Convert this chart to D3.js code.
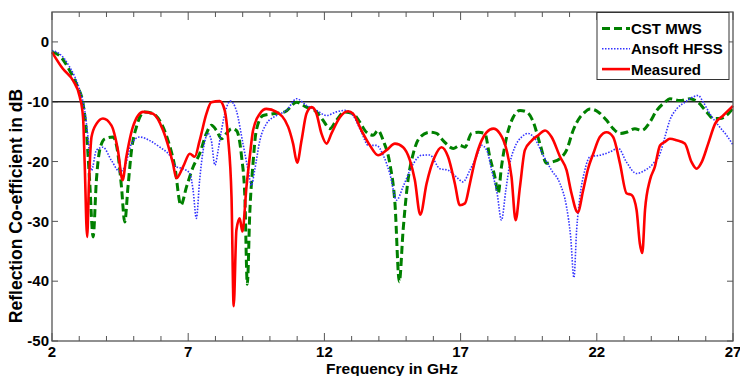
<!DOCTYPE html>
<html>
<head>
<style>
  body { margin: 0; background: #fff; }
  text { font-family: "Liberation Sans", Arial, sans-serif; font-weight: bold; }
</style>
</head>
<body>
<svg id="svg" width="740" height="376"></svg>
<script src="https://cdn.jsdelivr.net/npm/d3@7"></script>
<script>
// frequency (GHz) / reflection coefficient (dB)
const cstF = [2,2.28,2.65,2.95,3.14,3.26,3.38,3.51,3.63,3.75,3.94,4.24,4.42,4.55,4.67,4.79,4.92,5.1,5.4,5.71,6.02,6.26,6.51,6.73,6.94,7.18,7.42,7.67,7.85,8.04,8.22,8.41,8.59,8.77,8.96,9.08,9.17,9.26,9.38,9.5,9.75,10.12,10.55,10.98,11.34,11.71,11.95,12.2,12.44,12.75,13.05,13.3,13.54,13.79,13.97,14.16,14.4,14.59,14.75,14.89,15.07,15.26,15.5,15.87,16.12,16.36,16.73,16.97,17.16,17.4,17.65,17.89,18.07,18.26,18.38,18.5,18.69,18.93,19.18,19.42,19.67,19.91,20.16,20.34,20.65,20.89,21.13,21.38,21.5,21.75,22.05,22.36,22.6,22.85,23.09,23.4,23.65,23.95,24.2,24.5,24.68,25.05,25.42,25.72,26.03,26.27,26.52,26.76,27];
const cstDb = [-1.7,-2.3,-4.8,-7.6,-10.3,-14.8,-23.1,-32.6,-23.1,-18.1,-16.2,-15.9,-18.7,-24.2,-30.1,-24.2,-18.1,-14.2,-11.7,-12,-13.7,-16.5,-20.9,-27.3,-24.2,-20.9,-18.7,-15.3,-13.95,-14.8,-16.2,-15.3,-14.5,-14.8,-19.2,-25.9,-40.5,-28.7,-20.3,-14.8,-12.3,-12,-11.7,-10.1,-10.9,-11.7,-13.1,-14.5,-13.1,-11.7,-12,-13.4,-15.1,-15.6,-14.8,-16.5,-20.3,-27,-40.1,-31.45,-23.1,-18.7,-16,-15.1,-15.3,-16.5,-17.8,-17.3,-17.6,-15.3,-15.1,-15.3,-19.2,-22.6,-25.3,-20.9,-15.9,-12.6,-11.45,-11.7,-13.4,-17,-20.3,-20.1,-19.5,-18.1,-14.8,-12.6,-12,-11.2,-11.7,-13.1,-14.5,-15.3,-15.1,-14.5,-14.8,-13.4,-11.45,-10.1,-9.5,-9.8,-9.5,-10.1,-11.7,-12.8,-12.8,-12.3,-11.1];

const hfssF = [2,2.28,2.65,3.02,3.2,3.32,3.45,3.63,3.87,4.18,4.49,4.67,4.92,5.22,5.59,5.96,6.32,6.57,6.81,7.06,7.18,7.3,7.42,7.55,7.73,7.85,7.98,8.1,8.22,8.41,8.55,8.77,9.01,9.2,9.32,9.44,9.63,9.87,10.24,10.61,10.98,11.34,11.71,12.08,12.44,12.75,13.05,13.36,13.61,13.91,14.16,14.4,14.65,14.89,15.2,15.57,15.87,16.24,16.54,16.85,17.09,17.34,17.58,17.77,17.96,18.14,18.34,18.5,18.66,18.81,18.99,19.24,19.48,19.73,20.03,20.34,20.65,20.89,21.04,21.16,21.26,21.38,21.56,21.75,22.11,22.48,22.79,23.09,23.46,23.77,24.08,24.32,24.5,24.68,24.93,25.23,25.54,25.72,25.91,26.15,26.46,26.76,27];
const hfssDb = [-1.45,-2,-4.2,-8.1,-11.45,-15.9,-21.5,-18.1,-17.6,-19.8,-21.7,-20.9,-17,-15.9,-16.5,-17.6,-18.95,-20.9,-21.2,-22,-24.8,-29.5,-23.1,-18.1,-15.3,-16.5,-20.6,-18.1,-14.8,-10.9,-9.9,-11.5,-17,-21.45,-24,-21.45,-16.5,-13.7,-12.3,-11.45,-9.5,-10.6,-11.45,-12.3,-11.7,-11.45,-12.3,-15.1,-17.3,-17.3,-18.95,-22,-26.45,-24.2,-20.9,-18.95,-18.9,-21.2,-21.45,-22.6,-23.4,-21.45,-19.2,-17.3,-18.1,-21.45,-25.3,-29.8,-24.8,-20.3,-17.6,-15.9,-15.3,-16.2,-18.95,-21.45,-23.7,-27.6,-32.6,-39.4,-31.45,-25.9,-21.45,-19.2,-18.95,-18.4,-17.8,-20.1,-22,-21.45,-20.3,-18.7,-15.9,-13.1,-11.2,-10.1,-9.2,-8.95,-10.1,-12,-13.95,-15.6,-17.2];

const measF = [2,2.4,2.77,3.02,3.14,3.2,3.29,3.36,3.45,3.63,3.87,4.18,4.42,4.59,4.73,4.97,5.34,5.71,6.08,6.44,6.57,6.81,7.06,7.24,7.42,7.67,7.85,8.16,8.34,8.46,8.59,8.67,8.77,8.89,8.99,9.14,9.26,9.38,9.63,9.87,10.24,10.67,10.85,11,11.16,11.34,11.53,11.71,11.89,12.08,12.26,12.57,12.87,13.05,13.36,13.67,13.97,14.28,14.59,14.89,15.14,15.32,15.52,15.75,16.05,16.3,16.54,16.79,16.97,17.16,17.34,17.53,17.77,17.96,18.2,18.44,18.69,18.87,19.02,19.18,19.36,19.61,19.85,20.1,20.34,20.65,20.89,21.07,21.3,21.5,21.68,21.87,22.11,22.36,22.6,22.85,23.09,23.28,23.46,23.58,23.67,23.77,23.95,24.13,24.32,24.5,24.68,24.93,25.23,25.48,25.66,25.85,26.09,26.34,26.64,27];
const measDb = [-1.7,-4.5,-6.45,-9.2,-12.6,-20.3,-32.6,-23.1,-15.9,-13.7,-12.8,-13.95,-18.1,-23.1,-19.2,-14.2,-11.7,-12,-14.8,-20.3,-22.8,-20.9,-18.7,-19.2,-16.5,-12,-10.1,-9.9,-11.45,-15.9,-25.9,-44.2,-31.45,-29.5,-31.7,-24.2,-19.2,-14.8,-12,-11.2,-11.7,-14.2,-17,-20.2,-16.5,-12,-10.9,-12,-15.3,-17,-15.3,-12.6,-11.6,-12,-14.8,-17.3,-18.95,-18.1,-17,-17.6,-19.8,-23.1,-28.9,-23.7,-19.2,-17.6,-19.2,-23.7,-27.3,-27,-23.7,-19.8,-16.5,-15.1,-14.5,-15.3,-18.1,-22.6,-29.8,-24.2,-18.1,-16.5,-15.6,-14.8,-15.9,-19.2,-21.45,-25.3,-28.5,-24.8,-21.2,-18.7,-15.9,-15.1,-15.9,-20.3,-25.3,-25.6,-28.1,-33.7,-35.3,-28.1,-23.1,-20.9,-17.3,-16.7,-16.2,-16.45,-17,-20.1,-21.2,-20.1,-17,-13.7,-12.3,-10.7];

const xTicks = [2, 7, 12, 17, 22, 27];
const yTicks = [0, -10, -20, -30, -40, -50];
const threshold = -10;
const legendNames = ["CST MWS", "Ansoft HFSS", "Measured"];

const svg = d3.select("#svg");
const L = 52, R = 733, T = 12, B = 341;
const x = d3.scaleLinear().domain([2, 27]).range([L, R]);
const y = d3.scaleLinear().domain([-50, 5]).range([B, T]);

const series = [
  { f: cstF, v: cstDb, color: "#008000", width: 3, dash: "8,4" },
  { f: hfssF, v: hfssDb, color: "#3333ff", width: 1.6, dash: "1.5,1.5" },
  { f: measF, v: measDb, color: "#ff0000", width: 2.6, dash: null }
];

// frame ticks (inside, all four sides); labelled ones a bit longer
const axisCol = "#555";
const tickG = svg.append("g").attr("stroke", axisCol).attr("stroke-width", 1);
d3.range(2, 28, 1).forEach(function(v) {
  const len = xTicks.includes(v) ? 8 : 5;
  tickG.append("line").attr("x1", x(v)).attr("x2", x(v)).attr("y1", B).attr("y2", B - len);
  tickG.append("line").attr("x1", x(v)).attr("x2", x(v)).attr("y1", T).attr("y2", T + len);
});
yTicks.forEach(function(v) {
  tickG.append("line").attr("x1", L).attr("x2", L + 6).attr("y1", y(v)).attr("y2", y(v));
  tickG.append("line").attr("x1", R).attr("x2", R - 6).attr("y1", y(v)).attr("y2", y(v));
});

// -10 dB reference line
svg.append("line")
  .attr("x1", L).attr("x2", R)
  .attr("y1", y(threshold)).attr("y2", y(threshold))
  .attr("stroke", "#222").attr("stroke-width", 1.5);

const line = d3.line().x(d => x(d[0])).y(d => y(d[1])).curve(d3.curveMonotoneX);
series.forEach(function(s) {
  svg.append("path")
    .datum(s.f.map((f, i) => [f, s.v[i]]))
    .attr("d", line)
    .attr("fill", "none")
    .attr("stroke", s.color)
    .attr("stroke-width", s.width)
    .attr("stroke-dasharray", s.dash)
    .attr("stroke-linejoin", "round");
});

svg.append("rect")
  .attr("x", L).attr("y", T).attr("width", R - L).attr("height", B - T)
  .attr("fill", "none").attr("stroke", axisCol).attr("stroke-width", 1.3);

// tick labels
svg.append("g").selectAll("text").data(xTicks).enter().append("text")
  .attr("x", d => x(d)).attr("y", B + 16)
  .attr("text-anchor", "middle").attr("font-size", 15)
  .text(d => d);
svg.append("g").selectAll("text").data(yTicks).enter().append("text")
  .attr("x", L - 3).attr("y", d => y(d)).attr("dy", "0.35em")
  .attr("text-anchor", "end").attr("font-size", 15)
  .text(d => d);

svg.append("text").attr("x", 392).attr("y", 373.5)
  .attr("text-anchor", "middle").attr("font-size", 15.5)
  .text("Frequency in GHz");
svg.append("text")
  .attr("transform", "translate(22,206) rotate(-90)")
  .attr("text-anchor", "middle").attr("font-size", 17.5)
  .text("Reflection Co-efficient in dB");

// legend
const lg = svg.append("g");
lg.append("rect").attr("x", 597).attr("y", 12.5).attr("width", 132).attr("height", 67)
  .attr("fill", "#fff").attr("stroke", "#333").attr("stroke-width", 1);
legendNames.forEach(function(name, i) {
  const s = series[i];
  const yy = 28.5 + i * 20.3;
  lg.append("line").attr("x1", 602).attr("x2", 630).attr("y1", yy).attr("y2", yy)
    .attr("stroke", s.color).attr("stroke-width", s.width).attr("stroke-dasharray", s.dash);
  lg.append("text").attr("x", 631).attr("y", yy).attr("dy", "0.36em")
    .attr("font-size", 15).text(name);
});
</script>
</body>
</html>
